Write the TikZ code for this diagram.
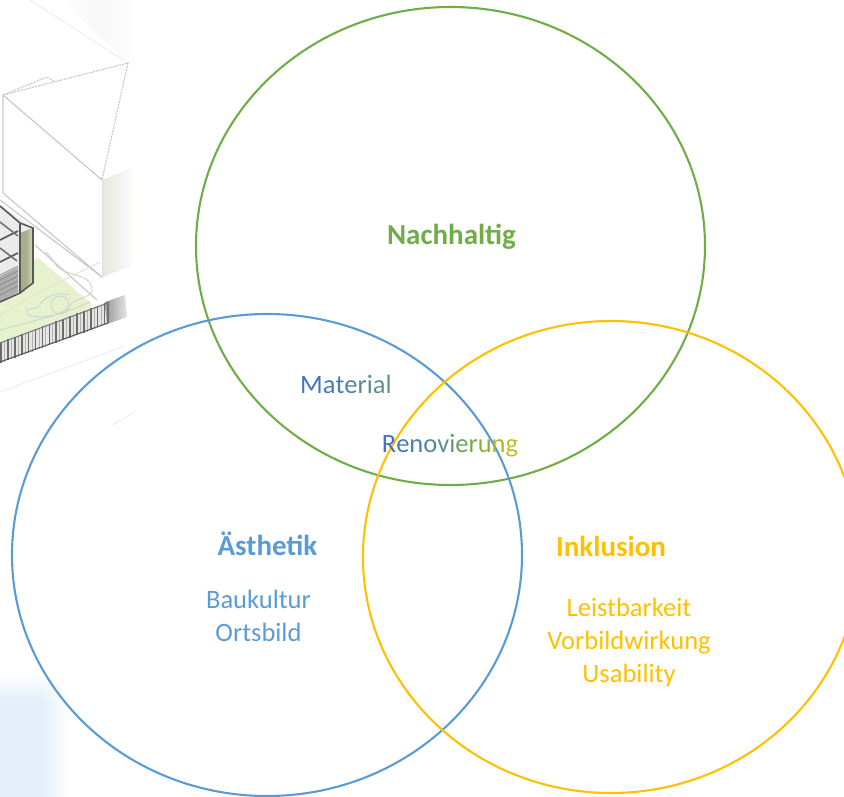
\documentclass[tikz,border=0pt]{standalone}
\usepackage{fontspec}
\setmainfont{Carlito}
\usetikzlibrary{shapes.geometric}
\definecolor{grn}{HTML}{70AD47}
\definecolor{blu}{HTML}{5B9BD5}
\definecolor{yel}{HTML}{FFC000}
\definecolor{skyfade}{HTML}{E4EFFA}
\definecolor{lawn}{HTML}{E6F1CE}
\definecolor{wallshade}{HTML}{E6E7DC}
\definecolor{panel}{HTML}{A9AD90}
\definecolor{frame}{HTML}{3A3D34}
\newcommand{\lc}[2]{\textcolor[HTML]{#1}{#2}}
\tikzset{
  ring/.style={ellipse,draw,line width=2.1pt,inner sep=0pt,outer sep=0pt},
  heading/.style={font=\bfseries\fontsize{29}{33}\selectfont,inner sep=0pt},
  body/.style={font=\fontsize{26.5}{33}\selectfont,inner sep=0pt,align=center},
  sketch/.style={draw=black!22,line width=1.1pt},
  faint/.style={draw=black!7,line width=1pt},
  bar/.style={draw=frame!85,line width=1.6pt},
  thinbar/.style={draw=black!30,line width=0.9pt},
  tree/.style={draw=black!18,line width=0.9pt}
}
\begin{document}
\begin{tikzpicture}[x=1pt,y=-1pt]
\useasboundingbox (0,0) rectangle (844,797);
% --- faded blue corner
\fill[skyfade] (0,700) rectangle (42,797);
\shade[left color=skyfade,right color=white] (42,700) rectangle (68,797);
\shade[top color=white,bottom color=skyfade] (0,674) rectangle (42,700);
\begin{scope}
  \clip (42,674) rectangle (68,700);
  \foreach \r in {26,24,...,2}{
    \pgfmathtruncatemacro{\pct}{100-100*\r/26}
    \fill[skyfade!\pct!white] (42,700) circle[radius=\r pt];
  }
\end{scope}
% --- white massing block
\shade[left color=wallshade,right color=white] (102,180) -- (137,167) -- (137,262) -- (102,277) -- cycle;
\shade[left color=white,right color=white,middle color=black!3] (60,0) -- (137,0) -- (137,60) -- (128,63) -- cycle;
\draw[faint] (30,0) -- (128,63);
\draw[sketch] (3,95) -- (102,180);
\draw[sketch] (3,95) -- (3,193) -- (102,277);
\draw[draw=black!12,line width=1pt] (102,180) -- (102,277);
\draw[sketch,dash pattern=on 2pt off 1pt] (3,95) -- (128,63) -- (102,180);
\draw[sketch,dash pattern=on 2pt off 1pt] (3,95) -- (47,77) -- (55,82);
\draw[draw=black!8,line width=0.8pt] (102,180) -- (130,170);
\draw[draw=black!8,line width=0.8pt] (102,277) -- (130,265);
% --- lawn
\fill[lawn] (0,333) -- (0,300) -- (37,257) -- (93,305) -- (60,328) -- (0,345) -- cycle;
% --- building
\fill[black!8] (0,205) -- (33,228) -- (20,233) -- (20,293) -- (0,302) -- cycle;
\fill[panel] (20,233) -- (33,228) -- (33,283) -- (20,293) -- cycle;
\shade[left color=panel,right color=lawn!70!panel] (26,231) -- (33,228) -- (33,283) -- (26,288) -- cycle;
\fill[black!32] (0,276) -- (18,267) -- (18,292) -- (0,302) -- cycle;
\foreach \y in {272,277,282,287,292}{\draw[draw=black!50,line width=0.6pt] (0,\y+3) -- (18,\y-6);}
\draw[bar] (0,206) -- (20,223) -- (33,228) -- (33,283) -- (20,293);
\draw[bar] (20,223) -- (20,293) -- (0,302);
\draw[bar] (0,240) -- (18,231);
\draw[bar] (0,262) -- (18,253);
\draw[bar,draw=black!55] (0,248) -- (17,261);
\draw[bar,draw=black!55] (0,222) -- (18,236);
% --- landscaping sketches
\draw[sketch] (0,200) -- (102,277);
\draw[sketch] (35,245) -- (97,300);
\draw[draw=brown!25,line width=0.9pt] (0,315) -- (40,292) -- (100,262);
\draw[tree] (45,252) .. controls (55,258) and (52,265) .. (62,270) .. controls (70,275) and (92,275) .. (92,290) .. controls (92,298) and (75,298) .. (70,305) .. controls (62,318) and (30,320) .. (27,313) .. controls (25,305) and (35,312) .. (40,305) .. controls (45,295) and (60,292) .. (70,295);
\draw[tree] (60,305) circle[radius=9pt];
\draw[tree] (0,330) .. controls (30,322) and (60,315) .. (90,302);
% --- fence
\fill[black!10] (0,342) -- (125,295) -- (127,317) -- (0,363) -- cycle;
\shade[left color=black!40,right color=black!10] (105,302) -- (125,295) -- (127,317) -- (107,324) -- cycle;
\foreach \i in {0,...,15}{
  \draw[bar,draw=frame!75] ({\i*6.9+1},{342-\i*6.9*0.376}) -- ({\i*6.9+1},{363-\i*6.9*0.368});
  \draw[thinbar] ({\i*6.9+4.5},{341-\i*6.9*0.376}) -- ({\i*6.9+4.5},{362-\i*6.9*0.368});
}
\draw[draw=black!55,line width=1pt] (0,343) -- (108,303);
\draw[draw=black!65,line width=1.1pt] (0,362) -- (108,323);
\draw[draw=black!55,line width=1.8pt] (108,302) -- (108,323);
\draw[faint] (0,392) -- (125,346);
\draw[faint] (112,425) -- (135,412);
% --- circles
\node[ring,draw=grn,minimum width=509pt,minimum height=478pt] (nach) at (450.5,246) {};
\node[ring,draw=blu,minimum width=510pt,minimum height=482pt] (aest) at (267,555) {};
\node[ring,draw=yel,minimum width=496pt,minimum height=472pt] (inkl) at (611,557) {};
% --- labels
\node[heading,text=grn] (tn) at (451.5,237) {Nachhaltig};
\node[heading,text=blu] (ta) at (267.5,544) {Ästhetik};
\node[heading,text=yel] (ti) at (611,546) {Inklusion};
\node[body,text=blu] (ba) at (258.5,616) {Baukultur\\Ortsbild};
\node[body,text=yel] (bi) at (629,642.5) {Leistbarkeit\\Vorbildwirkung\\Usability};
\node[body] (mat) at (346,384.5) {\lc{4472C4}{M}\lc{4A78B8}{a}\lc{4E7DAF}{t}\lc{5282A6}{e}\lc{56879D}{r}\lc{5A8C92}{i}\lc{5E9187}{a}\lc{62967C}{l}};
\node[body] (ren) at (450,446) {\lc{4472C4}{R}\lc{4A79B6}{e}\lc{4F80A8}{n}\lc{56889A}{o}\lc{5D908A}{v}\lc{64987A}{i}\lc{6BA25E}{e}\lc{7DAA48}{r}\lc{94AE3C}{u}\lc{ADB432}{n}\lc{C7BA2A}{g}};
\end{tikzpicture}
\end{document}
